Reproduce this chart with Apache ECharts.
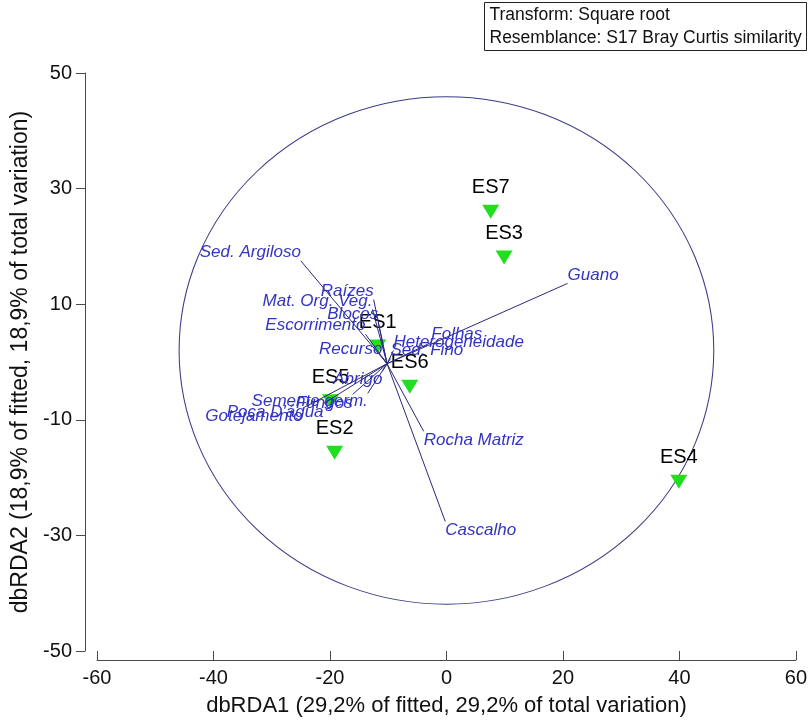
<!DOCTYPE html>
<html>
<head>
<meta charset="utf-8">
<script src="https://cdn.jsdelivr.net/npm/echarts@6/dist/echarts.min.js"></script>
<style>
  html, body { margin: 0; padding: 0; background: #ffffff; }
  #chart { width: 810px; height: 726px; }
</style>
</head>
<body>
<div id="chart"></div>
<script>
// dbRDA ordination: sample scores, predictor vectors and the correlation circle

// Axis ticks
const X_TICKS = [-60, -40, -20, 0, 20, 40, 60];
const Y_TICKS = [-50, -30, -10, 10, 30, 50];

// Sample scores
const SAMPLE_NAMES = ['ES1', 'ES2', 'ES3', 'ES4', 'ES5', 'ES6', 'ES7'];
const SAMPLE_X = [-11.8, -19.2, 9.9, 39.9, -19.9, -6.3, 7.6];
const SAMPLE_Y = [2.7, -15.7, 18.1, -20.7, -6.8, -4.3, 26.0];

// Predictor vectors (end points; all start at VECTOR_ORIGIN)
const VECTOR_ORIGIN = [-10.2, -0.3];
const VECTOR_NAMES = ['Guano', 'Sed. Argiloso', 'Raízes', 'Mat. Org. Veg.', 'Blocos',
  'Escorrimento', 'Recurso', 'Folhas', 'Heterogeneidade', 'Sed. Fino', 'Abrigo',
  'Semente germ.', 'Fungos', "Poça D'água", 'Gotejamento', 'Rocha Matriz', 'Cascalho'];
const VECTOR_X = [20.8, -25.0, -12.5, -12.7, -11.7, -13.9, -11.0, -2.6, -9.1, -9.6, -11.0,
  -13.5, -16.1, -21.1, -24.7, -3.9, -0.2];
const VECTOR_Y = [13.6, 17.5, 10.8, 9.1, 6.8, 4.8, 0.8, 3.4, 2.0, 0.6, -1.6,
  -5.4, -5.6, -7.2, -8.0, -12.0, -27.6];

// Correlation circle: centre x, centre y, radius x, radius y
const CIRCLE = [[0, 2.0, 45.9, 43.9]];

const TRANSFORM_NOTE = ['Transform: Square root', 'Resemblance: S17 Bray Curtis similarity'];

const FONT = '"Liberation Sans", Arial, sans-serif';
const AXIS_COLOR = '#4a4a4a';

const chart = echarts.init(document.getElementById('chart'), null, { renderer: 'canvas' });

const sampleData = SAMPLE_NAMES.map((n, i) => ({ name: n, value: [SAMPLE_X[i], SAMPLE_Y[i]] }));
const vectorData = VECTOR_NAMES.map((n, i) => ({ name: n, value: [VECTOR_X[i], VECTOR_Y[i], i] }));

const option = {
  backgroundColor: '#ffffff',
  animation: false,
  grid: { left: 97, right: 13, top: 73, bottom: 75, containLabel: false },
  xAxis: {
    type: 'value', min: -60, max: 60, interval: 20, offset: 9,
    name: 'dbRDA1 (29,2% of fitted, 29,2% of total variation)',
    nameLocation: 'middle', nameGap: 35,
    nameTextStyle: { fontFamily: FONT, fontSize: 22, color: '#111' },
    axisLine: { show: true, onZero: false, lineStyle: { color: AXIS_COLOR, width: 1 } },
    axisTick: { show: true, inside: true, length: 9, lineStyle: { color: AXIS_COLOR } },
    axisLabel: { customValues: X_TICKS, margin: 8, fontFamily: FONT, fontSize: 20, color: '#111' },
    splitLine: { show: false }
  },
  yAxis: {
    type: 'value', min: -50, max: 50, offset: 12,
    name: 'dbRDA2 (18,9% of fitted, 18,9% of total variation)',
    nameLocation: 'middle', nameGap: 47,
    nameTextStyle: { fontFamily: FONT, fontSize: 23, color: '#111' },
    axisLine: { show: true, onZero: false, lineStyle: { color: AXIS_COLOR, width: 1 } },
    axisTick: { show: true, inside: false, length: 9, customValues: Y_TICKS, lineStyle: { color: AXIS_COLOR } },
    axisLabel: { customValues: Y_TICKS, margin: 13, fontFamily: FONT, fontSize: 20, color: '#111' },
    splitLine: { show: false }
  },
  graphic: [{
    type: 'group', left: 484, top: 2,
    children: [
      { type: 'rect', shape: { x: 0, y: 0, width: 322, height: 48 },
        style: { fill: '#ffffff', stroke: '#222', lineWidth: 1 } },
      { type: 'text', x: 5, y: 4, style: { text: TRANSFORM_NOTE[0], font: '17.5px ' + FONT, fill: '#111' } },
      { type: 'text', x: 5, y: 27, style: { text: TRANSFORM_NOTE[1], font: '17.5px ' + FONT, fill: '#111' } }
    ]
  }],
  series: [
    {
      // correlation circle
      type: 'custom', coordinateSystem: 'cartesian2d', z: 1, silent: true,
      data: CIRCLE,
      encode: { x: 0, y: 1 },
      renderItem: function (params, api) {
        const c = api.coord([api.value(0), api.value(1)]);
        const rx = api.size([api.value(2), 0])[0];
        const ry = api.size([0, api.value(3)])[1];
        return {
          type: 'circle', x: c[0], y: c[1], scaleX: rx / ry, scaleY: 1,
          shape: { cx: 0, cy: 0, r: ry },
          style: { fill: 'none', stroke: '#3b3b88', lineWidth: 1, strokeNoScale: true }
        };
      }
    },
    {
      // samples
      type: 'scatter', z: 2, silent: true,
      symbol: 'triangle', symbolRotate: 180, symbolSize: [17, 14],
      itemStyle: { color: '#1fe01f', opacity: 1 },
      label: {
        show: true, position: 'top', distance: 7, formatter: '{b}',
        fontFamily: FONT, fontSize: 20, color: '#000', opacity: 1
      },
      data: sampleData
    },
    {
      // predictor vectors with labels at their tips
      type: 'custom', coordinateSystem: 'cartesian2d', z: 3, silent: true,
      data: vectorData,
      encode: { x: 0, y: 1 },
      renderItem: function (params, api) {
        const o = api.coord(VECTOR_ORIGIN);
        const e = api.coord([api.value(0), api.value(1)]);
        const dx = e[0] - o[0];
        const dy = e[1] - o[1];
        return {
          type: 'group',
          children: [
            { type: 'line', shape: { x1: o[0], y1: o[1], x2: e[0], y2: e[1] },
              style: { stroke: '#2a2a78', lineWidth: 1 } },
            { type: 'text', x: e[0], y: e[1],
              style: {
                text: VECTOR_NAMES[api.value(2)],
                font: 'italic 17px ' + FONT, fill: '#3434c4',
                align: dx >= 0 ? 'left' : 'right',
                verticalAlign: dy <= 0 ? 'bottom' : 'top'
              } }
          ]
        };
      }
    }
  ]
};

chart.setOption(option);
</script>
</body>
</html>
